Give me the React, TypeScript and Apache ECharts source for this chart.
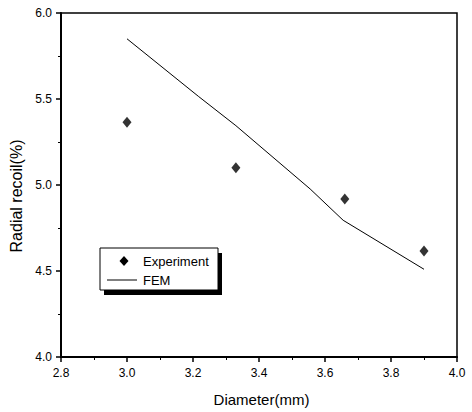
import React, { useEffect, useRef } from "react";
import * as echarts from "echarts";

const expX = [3.0, 3.33, 3.66, 3.9];
const expY = [5.365, 5.1, 4.918, 4.617];
const femX = [3.0, 3.216, 3.33, 3.555, 3.655, 3.9];
const femY = [5.85, 5.516, 5.345, 4.977, 4.795, 4.51];
const xTicks = [2.8, 3.0, 3.2, 3.4, 3.6, 3.8, 4.0];
const yTicks = [4.0, 4.5, 5.0, 5.5, 6.0];
const legendNames = ["Experiment", "FEM"];

const FONT = "'Liberation Sans', Arial, sans-serif";

export default function App() {
  const ref = useRef<HTMLDivElement>(null);
  useEffect(() => {
    if (!ref.current) return;
    const chart = echarts.init(ref.current, null, { renderer: "svg" });
    const axisCommon = {
      axisLine: { show: true, onZero: false, lineStyle: { color: "#000", width: 2 } },
      axisTick: { show: true, inside: false, length: 5, lineStyle: { color: "#000", width: 1.5 } },
      minorTick: { show: true, splitNumber: 2, length: 3, lineStyle: { color: "#000", width: 1 } },
      splitLine: { show: false },
      axisLabel: { color: "#000", fontSize: 12, fontFamily: FONT },
    };
    const lx = 100;
    const ly = 248;
    const lw = 118;
    const lh = 42;
    chart.setOption({
      animation: false,
      backgroundColor: "#fff",
      grid: { left: 61, top: 13, right: 15, bottom: 53, show: true, borderColor: "#000", borderWidth: 1.5 },
      xAxis: {
        type: "value",
        min: 2.8,
        max: 4.0,
        interval: 0.2,
        name: "Diameter(mm)",
        nameLocation: "middle",
        nameGap: 35,
        nameTextStyle: { color: "#000", fontSize: 15, fontFamily: FONT, padding: [0, 0, 0, 5] },
        ...axisCommon,
        axisLabel: {
          ...axisCommon.axisLabel,
          margin: 10,
          formatter: (v: number) => {
            const r = Math.round(v * 10) / 10;
            return xTicks.some((t) => Math.abs(t - r) < 1e-6) ? r.toFixed(1) : "";
          },
        },
      },
      yAxis: {
        type: "value",
        min: 4.0,
        max: 6.0,
        interval: 0.5,
        name: "Radial recoil(%)",
        nameLocation: "middle",
        nameGap: 32,
        nameTextStyle: { color: "#000", fontSize: 16, fontFamily: FONT, padding: [0, 22, 0, 0] },
        ...axisCommon,
        axisLabel: {
          ...axisCommon.axisLabel,
          margin: 9,
          formatter: (v: number) => {
            return yTicks.some((t) => Math.abs(t - v) < 1e-6) ? v.toFixed(1) : "";
          },
        },
      },
      graphic: [
        { type: "rect", shape: { x: lx + 4, y: ly + 5, width: lw, height: lh }, style: { fill: "#000" }, z: 100 },
        { type: "rect", shape: { x: lx, y: ly, width: lw, height: lh }, style: { fill: "#fff", stroke: "#000", lineWidth: 1 }, z: 101 },
        {
          type: "polygon",
          shape: { points: [[lx + 24, ly + 8], [lx + 28.5, ly + 13], [lx + 24, ly + 18], [lx + 19.5, ly + 13]] },
          style: { fill: "#000" },
          z: 102,
        },
        {
          type: "text",
          x: lx + 43,
          y: ly + 13,
          style: { text: legendNames[0], fill: "#000", fontSize: 13, fontFamily: FONT, verticalAlign: "middle" },
          z: 102,
        },
        { type: "line", shape: { x1: lx + 7, y1: ly + 32, x2: lx + 37, y2: ly + 32 }, style: { stroke: "#000", lineWidth: 1 }, z: 102 },
        {
          type: "text",
          x: lx + 43,
          y: ly + 32,
          style: { text: legendNames[1], fill: "#000", fontSize: 13, fontFamily: FONT, verticalAlign: "middle" },
          z: 102,
        },
      ],
      series: [
        {
          name: "Experiment",
          type: "scatter",
          symbol: "diamond",
          symbolSize: [9, 11],
          itemStyle: { color: "#000" },
          data: expX.map((x, i) => [x, expY[i]]),
        },
        {
          name: "FEM",
          type: "line",
          showSymbol: false,
          symbol: "none",
          lineStyle: { color: "#000", width: 1 },
          itemStyle: { color: "#000" },
          data: femX.map((x, i) => [x, femY[i]]),
        },
      ],
    });
    return () => chart.dispose();
  }, []);
  return (
    <div
      ref={ref}
      style={{ width: 472, height: 412, position: "absolute", left: 0, top: 0 }}
    />
  );
}
